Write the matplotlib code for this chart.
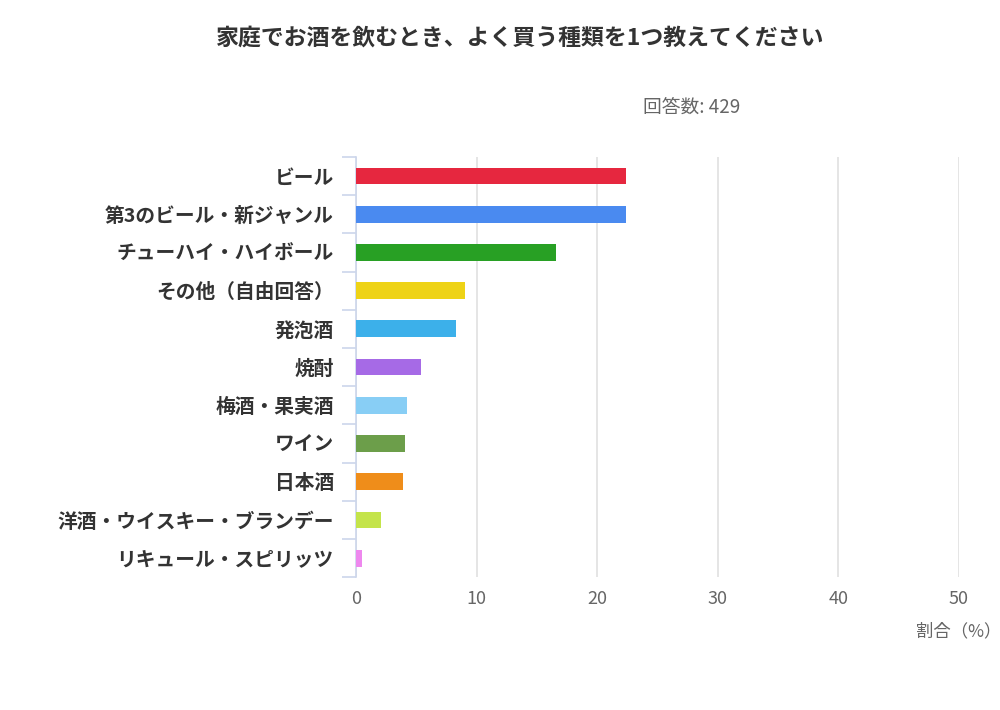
import matplotlib.pyplot as plt
from matplotlib.ticker import FixedLocator

plt.rcParams['font.family'] = ['Noto Sans CJK JP', 'DejaVu Sans']

# データ（割合 %）
categories = ['ビール', '第3のビール・新ジャンル', 'チューハイ・ハイボール', 'その他（自由回答）',
              '発泡酒', '焼酎', '梅酒・果実酒', 'ワイン', '日本酒',
              '洋酒・ウイスキー・ブランデー', 'リキュール・スピリッツ']
values = [22.4, 22.4, 16.6, 9.0, 8.3, 5.4, 4.2, 4.1, 3.9, 2.1, 0.5]
colors = ['#e6273f', '#4a8af0', '#28a024', '#eed316', '#3cb0ea', '#a66ae6',
          '#88cef5', '#6c9e4a', '#ef8d1a', '#c4e44a', '#ee88ee']
xticks = [0, 10, 20, 30, 40, 50]

fig = plt.figure(figsize=(10, 7.1), dpi=100)
ax = fig.add_axes([0.356, 0.187, 0.603, 0.592])

ypos = list(range(len(categories)))
ax.barh(ypos, values, height=0.44, color=colors, zorder=3)

ax.set_xlim(0, 50)
ax.set_ylim(len(categories) - 0.5, -0.5)

ax.set_xticks(xticks)
ax.set_xticklabels([str(t) for t in xticks], fontsize=13, color='#666666')
ax.tick_params(axis='x', length=0, pad=9)
ax.grid(axis='x', color='#e0e0e0', linewidth=1.2, zorder=0)

ax.set_yticks(ypos)
ax.set_yticklabels(categories, fontsize=14.2, fontweight='bold', color='#333333')
ax.tick_params(axis='y', which='major', length=0, pad=16)
ax.yaxis.set_minor_locator(FixedLocator([i - 0.5 for i in range(len(categories) + 1)]))
ax.tick_params(axis='y', which='minor', length=10, width=1.2, color='#ccd6eb')

for s in ['top', 'right', 'bottom']:
    ax.spines[s].set_visible(False)
ax.spines['left'].set_color('#ccd6eb')
ax.spines['left'].set_linewidth(1.2)

fig.text(0.52, 0.947, '家庭でお酒を飲むとき、よく買う種類を1つ教えてください',
         ha='center', va='center', fontsize=16.5, fontweight='bold', color='#333333')
fig.text(0.643, 0.849, '回答数: 429', ha='left', va='center', fontsize=13.5, color='#666666')
fig.text(0.916, 0.111, '割合（%）', ha='left', va='center', fontsize=12.5, color='#666666')

fig.savefig('out.png', dpi=100, facecolor='white')
